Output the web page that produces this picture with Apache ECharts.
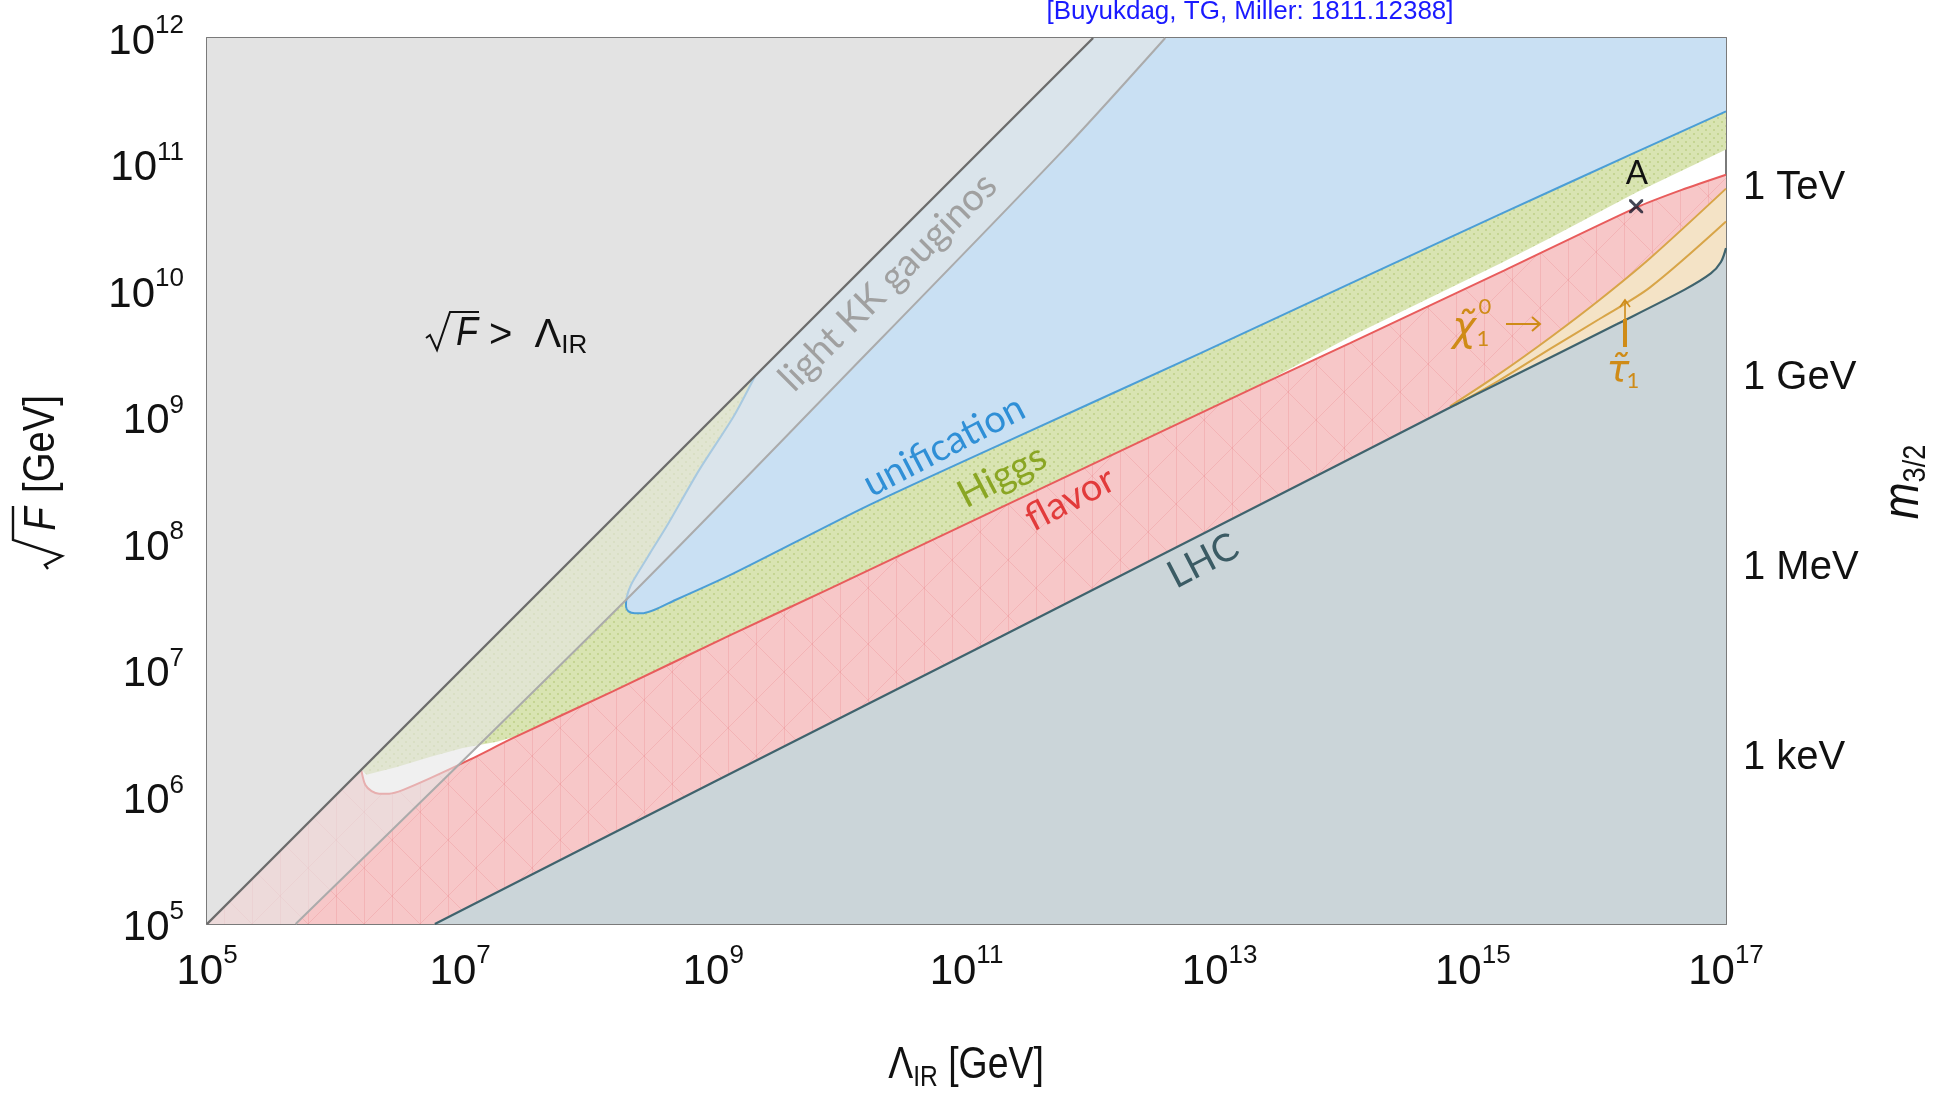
<!DOCTYPE html>
<html>
<head>
<meta charset="utf-8">
<script src="https://cdn.jsdelivr.net/npm/echarts@6/dist/echarts.min.js"></script>
<style>
html,body{margin:0;padding:0;background:#fff;}
#chart{width:1949px;height:1094px;}
</style>
</head>
<body>
<div id="chart"></div>
<script>
// ---------- DATA (all coordinates are log10 values: [log10 Λ_IR/GeV, log10 √F/GeV]) ----------
const diagonalLine = [[5, 5], [12, 12]]; // √F = Λ_IR
const kkLine = [[5.70, 5.00], [8.26, 7.51], [10.00, 9.29], [11.77, 11.12], [12.57, 12.00]];
const unificationBoundary = [
  [9.33, 9.33], [9.16, 9.01], [8.89, 8.59], [8.63, 8.14], [8.50, 7.93], [8.42, 7.80],
  [8.35, 7.68], [8.315, 7.58], [8.31, 7.51], [8.33, 7.47], [8.38, 7.455], [8.45, 7.456],
  [8.70, 7.56], [9.16, 7.77], [10.21, 8.30], [11.27, 8.79], [12.85, 9.51], [14.03, 10.06],
  [15.20, 10.60], [16.25, 11.08], [17.00, 11.42]
];
const higgsLowerBoundary = [
  [6.22, 6.22], [6.26, 6.18], [6.50, 6.24], [6.76, 6.32], [7.02, 6.39], [7.29, 6.44],
  [7.45, 6.485], [8.21, 6.84], [9.13, 7.28], [9.92, 7.65], [11.27, 8.29], [13.30, 9.25],
  [14.03, 9.64], [15.22, 10.22], [15.61, 10.42], [16.29, 10.78], [17.00, 11.12]
];
const flavorBoundary = [
  [6.22, 6.21], [6.25, 6.10], [6.30, 6.05], [6.36, 6.03], [6.44, 6.03], [6.55, 6.06],
  [6.76, 6.15], [7.08, 6.30], [7.42, 6.47], [8.21, 6.84], [9.13, 7.28], [9.92, 7.65],
  [11.27, 8.29], [13.30, 9.25], [14.03, 9.59], [15.22, 10.15], [16.29, 10.66], [16.65, 10.80], [17.00, 10.92]
];
const lhcBoundary = [
  [6.80, 5.00], [9.00, 6.12], [11.27, 7.27], [13.00, 8.15], [14.82, 9.08], [15.22, 9.28],
  [16.14, 9.74], [16.67, 10.01], [16.88, 10.14], [16.96, 10.23], [17.00, 10.34]
];
const neutralinoBoundary = [[14.82, 9.09], [15.20, 9.34], [15.62, 9.64], [16.00, 9.93], [16.40, 10.26], [17.00, 10.81]];
const stauBoundary = [[14.86, 9.10], [15.20, 9.29], [15.62, 9.55], [16.00, 9.78], [16.40, 10.03], [17.00, 10.55]];
const pointA = [[16.29, 10.67]];

// ticks
const xMajorTicks = [5, 6, 7, 8, 9, 10, 11, 12, 13, 14, 15, 16, 17];
const xMinorTicks = [5.699, 6.699, 7.699, 8.699, 9.699, 10.699, 11.699, 12.699, 13.699, 14.699, 15.699, 16.699];
const xLabelValues = [5, 7, 9, 11, 13, 15, 17];
const yMajorTicks = [5, 6, 7, 8, 9, 10, 11, 12];
const yMinorTicks = [5.699, 6.699, 7.699, 8.699, 9.699, 10.699, 11.699];
const m32TickValues = [5.3125, 5.8125, 6.3125, 6.8125, 7.3125, 7.8125, 8.3125, 8.8125, 9.3125, 9.8125, 10.3125, 10.8125, 11.3125, 11.8125];
const m32LabelValues = [6.3125, 7.8125, 9.3125, 10.8125];
const m32LabelTexts = ['1 keV', '1 MeV', '1 GeV', '1 TeV'];

// ---------- STYLE ----------
const AX = '"Liberation Sans",Arial,sans-serif';
const SANS = 'Lato,"Open Sans","Liberation Sans",sans-serif';
const DJ = '"DejaVu Sans",sans-serif';
const AXIS_COLOR = '#7a7a7a';
const TXT = '#111111';
const ORANGE = '#cf8b17';
const SQ = 0.85; // horizontal condensing of title text

// texture fills (faint mesh for flavor, faint dots for Higgs)
function makePattern(w, h, base, draw) {
  const c = document.createElement('canvas');
  c.width = w; c.height = h;
  const ctx = c.getContext('2d');
  ctx.fillStyle = base; ctx.fillRect(0, 0, w, h);
  draw(ctx, w, h);
  return {type: 'pattern', image: c, repeat: 'repeat'};
}
const redFill = makePattern(56, 56, '#f7c7c8', function (ctx, w, h) {
  ctx.strokeStyle = 'rgba(228,96,98,0.18)'; ctx.lineWidth = 1;
  ctx.beginPath();
  ctx.moveTo(0.5, 0); ctx.lineTo(0.5, h);
  ctx.moveTo(w / 2 + 0.5, 0); ctx.lineTo(w / 2 + 0.5, h);
  ctx.moveTo(0, 0); ctx.lineTo(w, h);
  ctx.moveTo(w, 0); ctx.lineTo(0, h);
  ctx.stroke();
});
const greenFill = makePattern(8, 8, '#d9e4b2', function (ctx) {
  ctx.fillStyle = 'rgba(140,168,50,0.25)';
  ctx.fillRect(1, 1, 2, 2); ctx.fillRect(5, 5, 2, 2);
});

const supRich = {
  b: {fontSize: 42, lineHeight: 50, verticalAlign: 'bottom', fontFamily: AX, color: TXT},
  s: {fontSize: 26, lineHeight: 26, verticalAlign: 'top', fontFamily: AX, color: TXT}
};
const powLabel = v => '{b|10}{s|' + Math.round(v) + '}';

function axisX(position, ticks, len, showLine, labels) {
  return {
    type: 'value', position: position, min: 5, max: 17, gridIndex: 0,
    axisLine: {show: showLine, onZero: false, lineStyle: {color: AXIS_COLOR, width: 2}},
    axisTick: {show: true, inside: true, length: len, customValues: ticks, lineStyle: {color: AXIS_COLOR, width: 2}},
    axisLabel: labels ? {show: true, customValues: labels, margin: 19, formatter: powLabel, rich: supRich, hideOverlap: false} : {show: false},
    splitLine: {show: false}, minorTick: {show: false}, axisPointer: {show: false}
  };
}
function axisY(position, ticks, len, showLine, labelOpt) {
  return {
    type: 'value', position: position, min: 5, max: 12, gridIndex: 0,
    axisLine: {show: showLine, onZero: false, lineStyle: {color: AXIS_COLOR, width: 2}},
    axisTick: {show: true, inside: true, length: len, customValues: ticks, lineStyle: {color: AXIS_COLOR, width: 2}},
    axisLabel: labelOpt || {show: false},
    splitLine: {show: false}, minorTick: {show: false}, axisPointer: {show: false}
  };
}

function region(name, pts, fill, z) {
  return {
    type: 'custom', name: name, coordinateSystem: 'cartesian2d', xAxisIndex: 0, yAxisIndex: 0,
    z: z, silent: true, clip: true, data: pts,
    renderItem: function (params, api) {
      if (params.dataIndex !== 0) return null;
      return {type: 'polygon', shape: {points: pts.map(p => api.coord(p))}, style: {fill: fill}};
    }
  };
}
function boundary(name, pts, color, width, z, smooth) {
  return {
    type: 'line', name: name, data: pts, xAxisIndex: 0, yAxisIndex: 0, z: z,
    showSymbol: false, symbol: 'none', silent: true, clip: true, smooth: smooth || false,
    lineStyle: {color: color, width: width}
  };
}

// polygons built from the boundary arrays
const grayPoly = [[5, 5], diagonalLine[1], [5, 12]];
const greenPoly = higgsLowerBoundary.concat([[17, 12], [12, 12]]);
const bluePoly = unificationBoundary.concat([[17, 12], [12, 12]]);
const redPoly = [[5, 5]].concat(flavorBoundary, lhcBoundary.slice().reverse());
const lhcPoly = lhcBoundary.concat([[17, 5]]);
const orangePoly = neutralinoBoundary.concat(lhcBoundary.filter(p => p[0] > neutralinoBoundary[0][0]).reverse());
const kkPoly = diagonalLine.concat(kkLine.slice().reverse());

function rotText(text, x, y, rot, color, size) {
  return {type: 'text', x: x, y: y, rotation: rot, z: 100,
    style: {text: text, fontSize: size, fontFamily: SANS, fill: color, align: 'center', verticalAlign: 'middle'}};
}
function txt(text, x, y, size, opts) {
  opts = opts || {};
  return {type: 'text', x: x, y: y, z: 100, scaleX: opts.sx || 1,
    style: {text: text, fontSize: size, fontFamily: opts.family || AX, fontStyle: opts.italic ? 'italic' : 'normal',
      fill: opts.color || TXT, align: opts.align || 'center', verticalAlign: 'middle', rich: opts.rich}};
}

const option = {
  animation: false,
  backgroundColor: '#ffffff',
  textStyle: {fontFamily: AX},
  grid: {left: 207, right: 223, top: 38, bottom: 170, containLabel: false},
  xAxis: [
    axisX('bottom', xMajorTicks, 17, true, xLabelValues),
    axisX('bottom', xMinorTicks, 11, false, null),
    axisX('top', xMajorTicks, 17, true, null),
    axisX('top', xMinorTicks, 11, false, null)
  ],
  yAxis: [
    axisY('left', yMajorTicks, 14, true, {show: true, customValues: yMajorTicks, margin: 23, formatter: powLabel, rich: supRich, hideOverlap: false}),
    axisY('left', yMinorTicks, 14, false, null),
    axisY('right', m32TickValues, 13, true, {
      show: true, customValues: m32LabelValues, margin: 17, hideOverlap: false,
      fontSize: 40, fontFamily: AX, color: TXT,
      formatter: function (v) {
        let best = 0;
        m32LabelValues.forEach((m, i) => { if (Math.abs(m - v) < Math.abs(m32LabelValues[best] - v)) best = i; });
        return m32LabelTexts[best];
      }
    })
  ],
  series: [
    region('√F > Λ_IR', grayPoly, '#e3e3e3', 1),
    region('Higgs', greenPoly, greenFill, 2),
    region('unification', bluePoly, '#c9e0f3', 3),
    region('flavor', redPoly, redFill, 4),
    region('LHC', lhcPoly, '#cbd5d9', 5),
    region('stau / neutralino', orangePoly, '#f4e3c6', 6),
    boundary('unification boundary', unificationBoundary, '#4b9ed6', 2, 7, 0.25),
    boundary('flavor boundary', flavorBoundary, '#e85c5c', 2, 7, 0.25),
    boundary('neutralino boundary', neutralinoBoundary, '#d8a548', 2, 8, 0.3),
    boundary('stau boundary', stauBoundary, '#d8a548', 2, 8, 0.3),
    boundary('LHC boundary', lhcBoundary, '#3f636d', 2.2, 8, 0.3),
    region('light KK gauginos', kkPoly, 'rgba(230,230,230,0.6)', 9),
    boundary('light KK gauginos boundary', kkLine, '#ababab', 2, 10, 0.3),
    boundary('√F = Λ_IR', diagonalLine, '#6c6c6c', 2.4, 10),
    {
      type: 'scatter', name: 'A', data: pointA, xAxisIndex: 0, yAxisIndex: 0, z: 12, silent: true,
      symbol: 'path://M0,0L3,0L10,7L17,0L20,0L20,3L13,10L20,17L20,20L17,20L10,13L3,20L0,20L0,17L7,10L0,3Z',
      symbolSize: 14, itemStyle: {color: '#15182a'}
    }
  ],
  graphic: [
    // citation
    txt('[Buyukdag, TG, Miller: 1811.12388]', 1250, 12, 26, {color: '#1a1aff'}),
    // x title
    txt('{n|Λ}{sub|IR}{n| [GeV]}', 966, 1068, 44, {sx: SQ, rich: {
      n: {fontSize: 44, lineHeight: 44, verticalAlign: 'top', fontFamily: AX, color: TXT},
      sub: {fontSize: 29, lineHeight: 48, verticalAlign: 'bottom', fontFamily: AX, color: TXT}
    }}),
    // y title (rotated)
    {type: 'group', x: 47, y: 482, rotation: Math.PI / 2, z: 100, children: [
      {type: 'polyline', z: 100, shape: {points: [[-87, 1], [-83, -2], [-74, 15], [-58, -34], [-24, -34]]}, style: {stroke: TXT, lineWidth: 2.4, fill: null}},
      txt('F', -37, -5, 45, {italic: true, sx: SQ}),
      txt('[GeV]', -11, -5, 45, {align: 'left', sx: SQ})
    ]},
    // right title m_{3/2}
    {type: 'group', x: 1906, y: 482, rotation: Math.PI / 2, z: 100, children: [
      txt('{m|m}{s|3/2}', 0, -1, 52, {sx: SQ, rich: {
        m: {fontSize: 52, lineHeight: 52, verticalAlign: 'top', fontStyle: 'italic', fontFamily: AX, color: TXT},
        s: {fontSize: 32, lineHeight: 55, verticalAlign: 'bottom', fontFamily: AX, color: TXT}
      }})
    ]},
    // √F > Λ_IR label
    {type: 'group', x: 426, y: 337, z: 100, children: [
      {type: 'polyline', z: 100, shape: {points: [[0, 1], [4, -2], [11, 13], [24, -25], [53, -25]]}, style: {stroke: TXT, lineWidth: 2, fill: null}},
      txt('F', 41, -3, 40, {italic: true, sx: 0.9}),
      txt('{n|>  Λ}{sub|IR}', 63, 0, 40, {align: 'left', rich: {
        n: {fontSize: 40, lineHeight: 40, verticalAlign: 'top', fontFamily: AX, color: TXT},
        sub: {fontSize: 26, lineHeight: 43, verticalAlign: 'bottom', fontFamily: AX, color: TXT}
      }})
    ]},
    // region labels
    rotText('light KK gauginos', 888, 282, Math.PI / 4, '#a0a0a0', 38),
    rotText('unification', 944, 446, 0.48, '#2f8fd6', 38),
    rotText('Higgs', 1002, 476, 0.48, '#8aa623', 38),
    rotText('flavor', 1070, 499, 0.48, '#e23b3b', 38),
    rotText('LHC', 1203, 561, 0.48, '#3b5b64', 38),
    // A marker label
    txt('A', 1637, 173, 33, {family: SANS}),
    // neutralino label
    txt('χ̃', 1464, 330, 40, {family: DJ, italic: true, color: ORANGE}),
    txt('0', 1485, 307, 22, {family: SANS, color: ORANGE}),
    txt('1', 1483, 339, 22, {family: SANS, color: ORANGE}),
    {type: 'polyline', z: 100, shape: {points: [[1506, 324], [1539, 324]]}, style: {stroke: ORANGE, lineWidth: 2, fill: null}},
    {type: 'polyline', z: 100, shape: {points: [[1532, 317], [1540, 324], [1532, 331]]}, style: {stroke: ORANGE, lineWidth: 2, fill: null}},
    // stau label and arrow
    txt('τ̃', 1618, 371, 38, {family: DJ, italic: true, color: ORANGE}),
    txt('1', 1633, 381, 22, {family: SANS, color: ORANGE}),
    {type: 'polyline', z: 100, shape: {points: [[1625, 347], [1625, 319]]}, style: {stroke: ORANGE, lineWidth: 4, fill: null}},
    {type: 'polyline', z: 100, shape: {points: [[1625, 320], [1625, 301]]}, style: {stroke: ORANGE, lineWidth: 1.6, fill: null}},
    {type: 'polyline', z: 100, shape: {points: [[1620, 307], [1625, 300], [1630, 307]]}, style: {stroke: ORANGE, lineWidth: 1.6, fill: null}}
  ]
};

const chart = echarts.init(document.getElementById('chart'), null, {renderer: 'canvas'});
chart.setOption(option);
</script>
</body>
</html>
